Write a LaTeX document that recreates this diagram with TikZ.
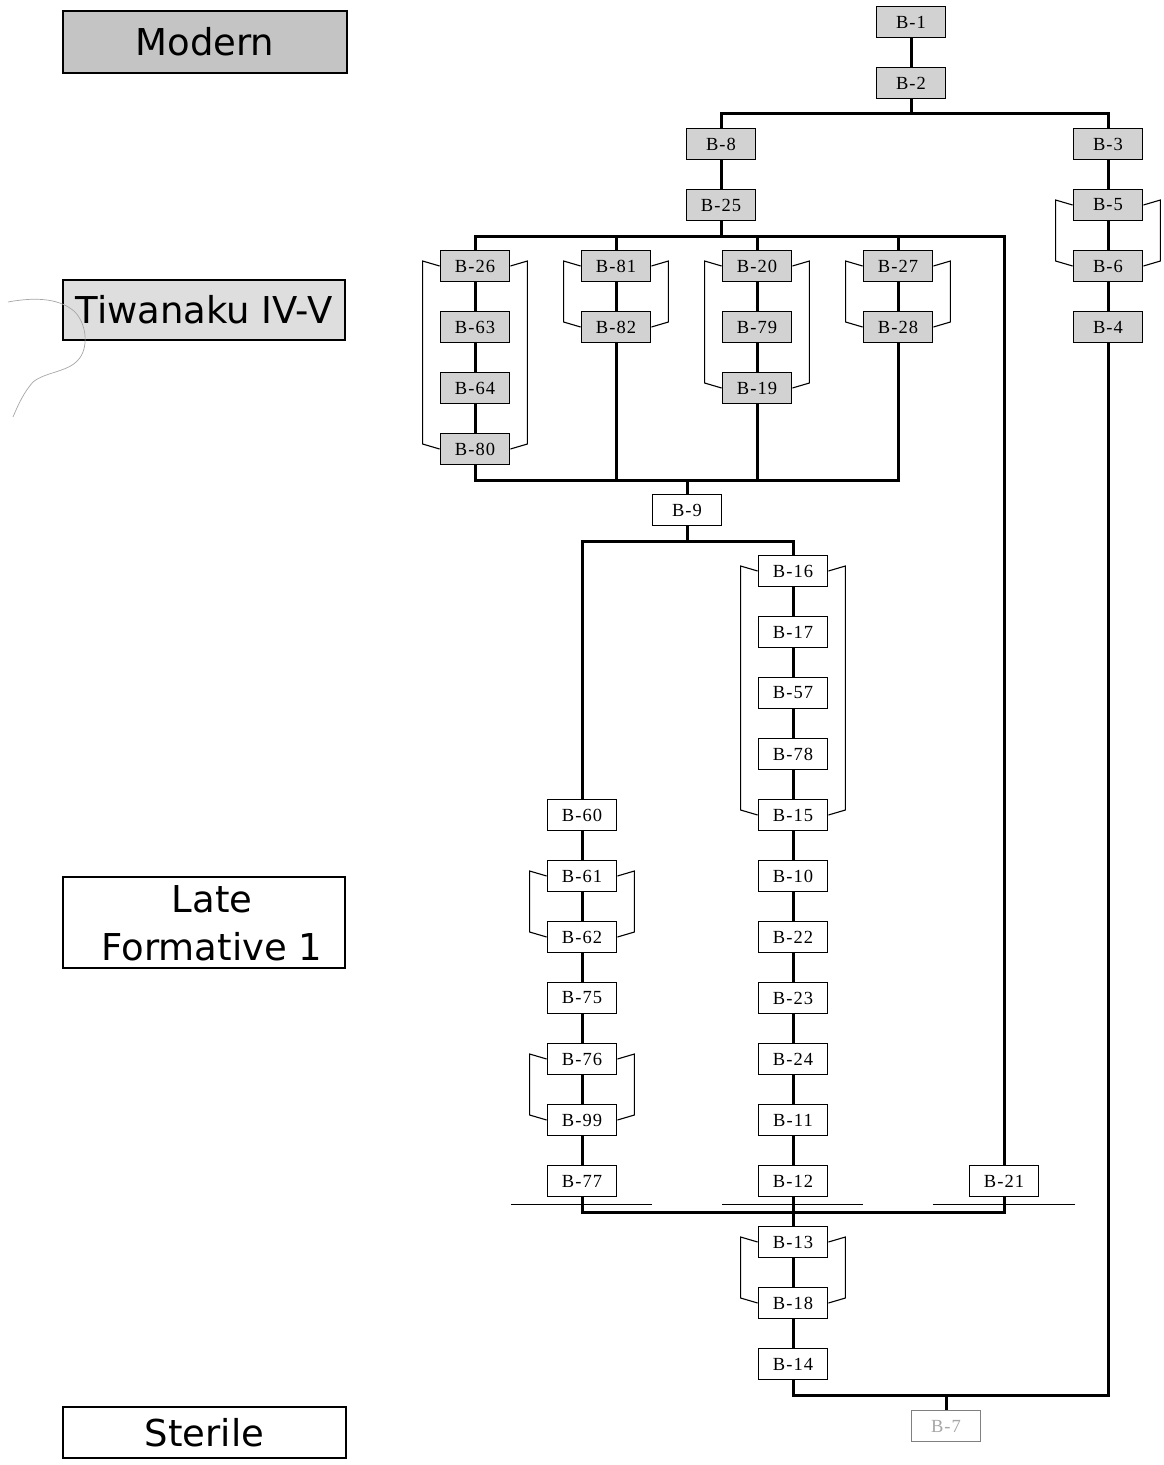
\documentclass[tikz,border=0pt]{standalone}
\usepackage{fontspec}
\setmainfont{Liberation Serif}
\newfontfamily\boxfont[LetterSpace=6]{Liberation Serif}
\newfontfamily\labfont{DejaVu Sans}
\definecolor{nodegray}{HTML}{D2D2D2}
\definecolor{modgray}{HTML}{C4C4C4}
\definecolor{tiwgray}{HTML}{DEDEDE}
\newcommand\sidebrk[2]{%
  \draw[brk] (#1.east) -- ([shift={(17,-5)}]#1.east) -- ([shift={(17,-5)}]#2.east) -- (#2.east);
  \draw[brk] (#1.west) -- ([shift={(-17,-5)}]#1.west) -- ([shift={(-17,-5)}]#2.west) -- (#2.west);}
\begin{document}
\begin{tikzpicture}[x=1pt,y=-1pt,
  unit/.style={draw, line width=1.8pt, minimum width=69pt, minimum height=31pt, inner sep=0pt,
     fill=white, font=\boxfont\fontsize{18.5}{18.5}\selectfont},
  gunit/.style={unit, fill=nodegray},
  conn/.style={line width=3pt},
  brk/.style={line width=1.1pt},
  ground/.style={line width=1.5pt},
  labbox/.style={draw, line width=1.5pt, inner sep=0pt, font=\labfont\fontsize{37}{48}\selectfont}]
\useasboundingbox (0,0) rectangle (1163,1465);
\fill[white] (0,0) rectangle (1163,1465);

% period labels
\node[labbox, fill=modgray, minimum width=284pt, minimum height=62pt] (modern) at (205,42) {Modern};
\node[labbox, fill=tiwgray, minimum width=282pt, minimum height=60pt] (tiw) at (204,310) {Tiwanaku IV-V};
\node[labbox, minimum width=282pt, minimum height=91pt] (lfbox) at (204,922.5) {};
\node[font=\labfont\fontsize{37}{48}\selectfont, align=center, inner sep=0pt] (lf) at (212,923) {Late\\ Formative 1};
\node[labbox, minimum width=283pt, minimum height=51pt] (sterile) at (204.5,1432.5) {Sterile};
\draw[gray!70, line width=0.7pt] (8,302) .. controls (40,296) and (62,300) .. (75,312)
  .. controls (88,326) and (88,350) .. (78,360) .. controls (68,372) and (45,372) .. (33,382)
  .. controls (24,392) and (18,405) .. (13,417);

% units
\node[gunit] (b1) at (911,22) {B-1};
\node[gunit] (b2) at (911,83) {B-2};
\node[gunit] (b8) at (721,144) {B-8};
\node[gunit] (b3) at (1108,144) {B-3};
\node[gunit] (b25) at (721,205) {B-25};
\node[gunit] (b5) at (1108,205) {B-5};
\node[gunit] (b26) at (475,266) {B-26};
\node[gunit] (b81) at (616,266) {B-81};
\node[gunit] (b20) at (757,266) {B-20};
\node[gunit] (b27) at (898,266) {B-27};
\node[gunit] (b6) at (1108,266) {B-6};
\node[gunit] (b63) at (475,327) {B-63};
\node[gunit] (b82) at (616,327) {B-82};
\node[gunit] (b79) at (757,327) {B-79};
\node[gunit] (b28) at (898,327) {B-28};
\node[gunit] (b4) at (1108,327) {B-4};
\node[gunit] (b64) at (475,388) {B-64};
\node[gunit] (b19) at (757,388) {B-19};
\node[gunit] (b80) at (475,449) {B-80};
\node[unit] (b9) at (687,510) {B-9};
\node[unit] (b16) at (793,571) {B-16};
\node[unit] (b17) at (793,632) {B-17};
\node[unit] (b57) at (793,693) {B-57};
\node[unit] (b78) at (793,754) {B-78};
\node[unit] (b60) at (582,815) {B-60};
\node[unit] (b15) at (793,815) {B-15};
\node[unit] (b61) at (582,876) {B-61};
\node[unit] (b10) at (793,876) {B-10};
\node[unit] (b62) at (582,937) {B-62};
\node[unit] (b22) at (793,937) {B-22};
\node[unit] (b75) at (582,998) {B-75};
\node[unit] (b23) at (793,998) {B-23};
\node[unit] (b76) at (582,1059) {B-76};
\node[unit] (b24) at (793,1059) {B-24};
\node[unit] (b99) at (582,1120) {B-99};
\node[unit] (b11) at (793,1120) {B-11};
\node[unit] (b77) at (582,1181) {B-77};
\node[unit] (b12) at (793,1181) {B-12};
\node[unit] (b21) at (1004,1181) {B-21};
\node[unit] (b13) at (793,1242) {B-13};
\node[unit] (b18) at (793,1303) {B-18};
\node[unit] (b14) at (793,1364) {B-14};
\node[unit, draw=gray, text=gray!70] (b7) at (946,1426) {B-7};

% junctions
\coordinate (j1) at (911,113);
\coordinate (j2) at (721,236);
\coordinate (j3) at (687,480);
\coordinate (j4) at (687,541);
\coordinate (j5) at (793,1212);
\coordinate (j6) at (946,1395);

% vertical chains
\foreach \a/\b in {b1/b2, b8/b25, b3/b5, b5/b6, b6/b4, b26/b63, b63/b64, b64/b80,
  b81/b82, b20/b79, b79/b19, b27/b28, b16/b17, b17/b57, b57/b78, b78/b15, b15/b10,
  b10/b22, b22/b23, b23/b24, b24/b11, b11/b12, b12/b13, b13/b18, b18/b14,
  b60/b61, b61/b62, b62/b75, b75/b76, b76/b99, b99/b77}
  \draw[conn] (\a) -- (\b);

% bars
\draw[conn] (b2.south) -- (j1);
\draw[conn] (b8.north) |- (j1) -| (b3.north);
\draw[conn] (b25.south) -- (j2);
\draw[conn] (b26.north) |- (j2) -| (b21.north);
\draw[conn] (b81.north) -- (b81.north |- j2);
\draw[conn] (b20.north) -- (b20.north |- j2);
\draw[conn] (b27.north) -- (b27.north |- j2);
\draw[conn] (b80.south) |- (j3) -| (b28.south);
\draw[conn] (b82.south) -- (b82.south |- j3);
\draw[conn] (b19.south) -- (b19.south |- j3);
\draw[conn] (j3) -- (b9.north);
\draw[conn] (b9.south) -- (j4);
\draw[conn] (b60.north) |- (j4) -| (b16.north);
\draw[conn] (b77.south) |- (j5) -| (b21.south);
\draw[conn] (b14.south) |- (j6) -| (b4.south);
\draw[conn] (j6) -- (b7.north);

% ground lines
\draw[ground] ([shift={(-71,7)}]b77.south) -- ([shift={(70,7)}]b77.south);
\draw[ground] ([shift={(-71,7)}]b12.south) -- ([shift={(70,7)}]b12.south);
\draw[ground] ([shift={(-71,7)}]b21.south) -- ([shift={(71,7)}]b21.south);

% brackets
\sidebrk{b5}{b6}
\sidebrk{b26}{b80}
\sidebrk{b81}{b82}
\sidebrk{b20}{b19}
\sidebrk{b27}{b28}
\sidebrk{b16}{b15}
\sidebrk{b61}{b62}
\sidebrk{b76}{b99}
\sidebrk{b13}{b18}
\end{tikzpicture}
\end{document}
